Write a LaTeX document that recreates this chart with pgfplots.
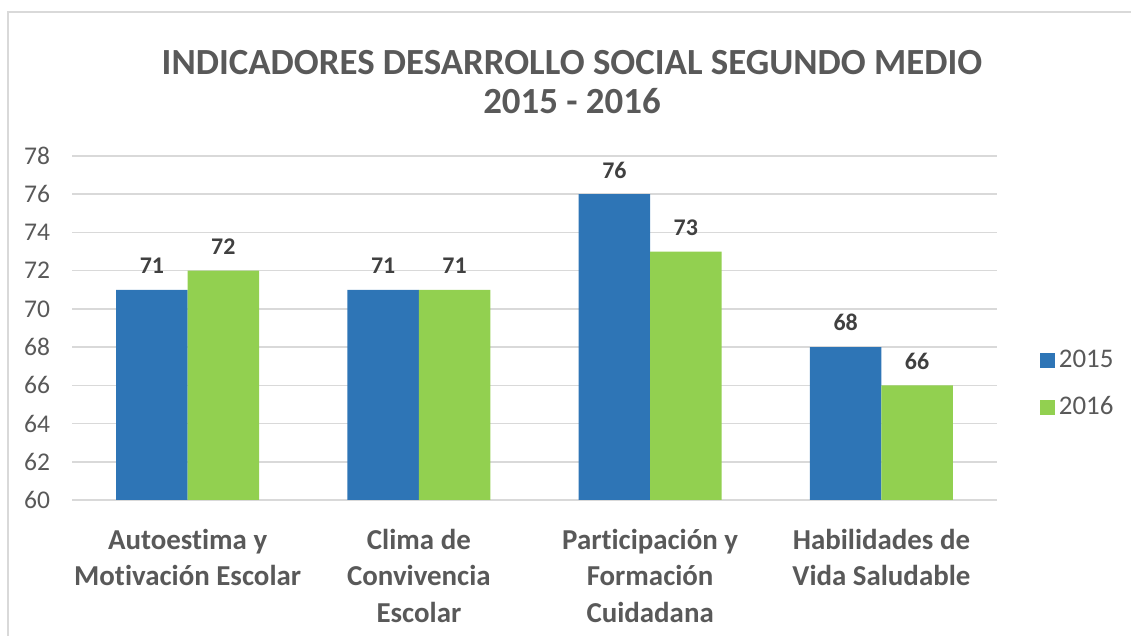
\documentclass[border=0pt]{standalone}
\usepackage{fontspec}
\setmainfont{Carlito}[Ligatures=NoCommon]
\usepackage{pgfplots}
\pgfplotsset{compat=1.18}
\definecolor{bblue}{HTML}{2E75B6}
\definecolor{bgreen}{HTML}{92D050}
\definecolor{tgray}{HTML}{595959}
\definecolor{dgray}{HTML}{404040}
\definecolor{lgray}{HTML}{D9D9D9}
\begin{document}
\begin{tikzpicture}
\useasboundingbox (0bp,0bp) rectangle (565.5bp,318bp);
\draw[lgray, line width=1bp] (4bp,-2bp) -- (4bp,312bp) -- (570bp,312bp);
\node[font=\bfseries\fontsize{18.5}{19.5}\selectfont, text=tgray, align=center] at (286bp,276.8bp) {INDICADORES DESARROLLO SOCIAL SEGUNDO MEDIO\\2015 - 2016};
\begin{axis}[at={(36bp,68bp)}, anchor=south west, scale only axis,
  width=462.5bp, height=172bp,
  ybar=0pt, bar width=0.309,
  ymin=60, ymax=78, ytick={60,62,...,78},
  xmin=-0.5, xmax=3.5, xtick={0,1,2,3},
  xticklabels={{Autoestima y\\Motivación Escolar},{Clima de\\Convivencia\\Escolar},{Participación y\\Formación\\Cuidadana},{Habilidades de\\Vida Saludable}},
  enlargelimits=false,
  axis line style={draw=none},
  major tick length=0pt,
  ymajorgrids, grid style={lgray, line width=0.8bp},
  /pgf/number format/assume math mode=true,
  yticklabel style={font=\fontsize{12.8}{14}\selectfont, text=tgray, xshift=-7.5bp},
  xticklabel style={font=\bfseries\fontsize{14.5}{18.3}\selectfont, text=tgray, align=center, yshift=-11bp},
  nodes near coords,
  nodes near coords style={font=\bfseries\fontsize{12}{14}\selectfont, text=dgray, yshift=4.5bp},
  legend style={at={(1.046,0.337)}, anchor=west, draw=none, font=\fontsize{13.5}{15}\selectfont, text=tgray, row sep=9bp, inner sep=0pt},
  legend cell align=left,
]
\addplot[fill=bblue, draw=none, legend image code/.code={\fill[bblue] (0bp,-3.75bp) rectangle (7.5bp,3.75bp);}] coordinates {(0,71) (1,71) (2,76) (3,68)};
\addplot[fill=bgreen, draw=none, legend image code/.code={\fill[bgreen] (0bp,-3.75bp) rectangle (7.5bp,3.75bp);}] coordinates {(0,72) (1,71) (2,73) (3,66)};
\legend{2015,2016}
\end{axis}
\end{tikzpicture}
\end{document}
